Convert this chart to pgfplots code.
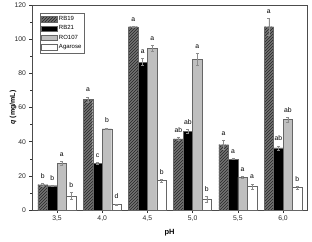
\documentclass[border=0pt]{standalone}
\usepackage{fontspec}
\setmainfont{Liberation Sans}
\usepackage{pgfplots}
\pgfplotsset{compat=1.18}
\usepackage{pgfplotstable}
\usetikzlibrary{patterns}

\pgfplotstableread{
x y e l
0 14.8 0.6 b
1 64.7 1.5 a
2 107.3 0.3 a
3 41.6 0.8 ab
4 38.2 2.5 a
5 107.3 5.0 a
}\rbnineteen
\pgfplotstableread{
x y e l
0 14.2 0.4 b
1 27.4 0.3 c
2 86.6 2.0 a
3 46.0 1.2 ab
4 29.8 0.3 a
5 36.3 1.2 ab
}\rbtwentyone
\pgfplotstableread{
x y e l
0 27.4 1.2 a
1 47.6 0.5 b
2 94.5 1.8 a
3 88.2 3.5 a
4 19.2 0.6 a
5 52.9 1.5 ab
}\roonezeroseven
\pgfplotstableread{
x y e l
0 8.3 2.0 b
1 3.3 0.3 d
2 17.2 0.8 b
3 6.3 1.5 b
4 13.7 1.5 a
5 13.1 0.7 b
}\agarose

\begin{document}
\begin{tikzpicture}
\useasboundingbox (-32pt,-31pt) rectangle (280pt,210pt);
\begin{axis}[
  at={(0,0)}, anchor=south west,
  scale only axis, width=275pt, height=205pt,
  ybar=0pt, bar width=9.5pt,
  xmin=-0.553, xmax=5.53,
  ymin=0, ymax=120,
  xtick=data,
  xticklabels={{3,5},{4,0},{4,5},{5,0},{5,5},{6,0}},
  ytick={0,20,...,120},
  minor y tick num=1,
  tick align=outside,
  xtick pos=bottom, ytick pos=left,
  major tick length=2.5pt, minor tick length=1.5pt,
  tick style={black!80, line width=0.4pt},
  axis line style={black!70, line width=0.5pt},
  tick label style={font=\fontsize{6.8}{7}\selectfont, text=black!85},
  /pgf/number format/assume math mode=true,
  xlabel={\textbf{pH}},
  ylabel={\textbf{\textit{q} (mg/mL)}},
  xlabel style={font=\fontsize{7.5}{8}\selectfont, at={(axis description cs:0.5,0)}, anchor=north, yshift=-16pt},
  ylabel style={font=\fontsize{7}{8}\selectfont, at={(axis description cs:0,0.5)}, yshift=12pt},
  legend style={at={(axis description cs:0.028,0.96)}, anchor=north west,
    font=\fontsize{6}{6.5}\selectfont, draw=black!60, line width=0.3pt,
    inner sep=1.2pt, row sep=-0.5pt, cells={anchor=west}},
  legend image code/.code={\draw[#1] (0cm,-0.1cm) rectangle (0.55cm,0.1cm);},
  error bars/y dir=both, error bars/y explicit,
  error bars/error bar style={black!45, line width=0.4pt},
  error bars/error mark options={rotate=90, mark size=1.5pt, black!45},
  point meta=explicit symbolic,
  nodes near coords,
  visualization depends on={\thisrow{e} \as \myerr},
  nodes near coords style={font=\fontsize{6.8}{7}\selectfont, anchor=south, yshift={\myerr*1.708pt+1.5pt}, text=black},
]
\addplot[draw=black!60, line width=0.3pt, fill=black!55, postaction={pattern=north east lines, pattern color=black!85}]
  table[x=x, y=y, y error=e, meta=l] {\rbnineteen};
\addlegendentry{RB19}
\addplot[draw=black!60, line width=0.3pt, fill=black]
  table[x=x, y=y, y error=e, meta=l] {\rbtwentyone};
\addlegendentry{RB21}
\addplot[draw=black!60, line width=0.3pt, fill=black!25]
  table[x=x, y=y, y error=e, meta=l] {\roonezeroseven};
\addlegendentry{RO107}
\addplot[draw=black!60, line width=0.3pt, fill=white]
  table[x=x, y=y, y error=e, meta=l] {\agarose};
\addlegendentry{Agarose}
\end{axis}
\end{tikzpicture}
\end{document}
